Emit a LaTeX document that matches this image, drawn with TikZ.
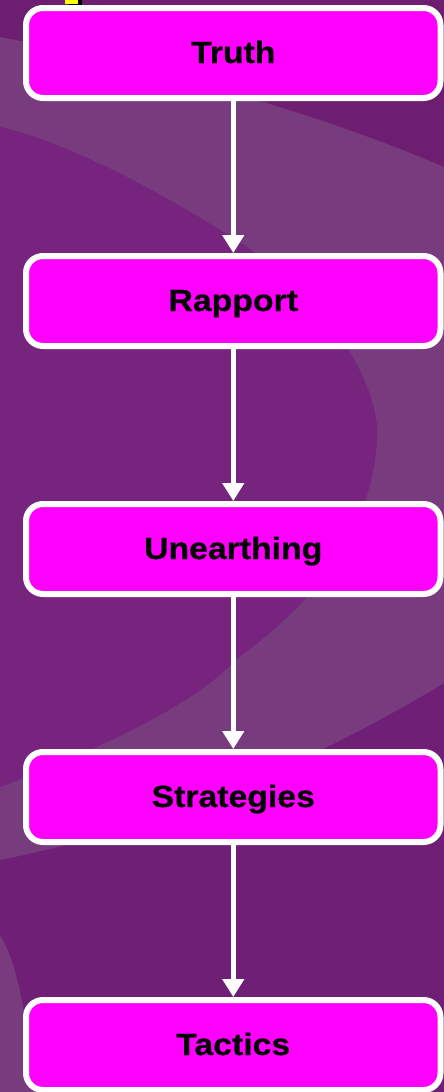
\documentclass[tikz,border=0pt]{standalone}
\usepackage{fontspec}
\setmainfont{Liberation Sans}[BoldFeatures={FakeBold=0.5}]
\usetikzlibrary{arrows.meta}

\definecolor{bgdark}{RGB}{112,31,118}
\definecolor{bgtop}{RGB}{110,30,112}
\definecolor{bginner}{RGB}{118,36,126}
\definecolor{bglight}{RGB}{119,59,126}
\definecolor{boxfill}{RGB}{255,0,255}
\definecolor{marker}{RGB}{255,255,0}

\newcommand\widetext[1]{\scalebox{1.1}[1]{#1}}

\tikzset{
  stepbox/.style={draw=white, fill=boxfill, line width=6pt,
    rounded corners=17pt, minimum width=414.5pt, minimum height=90pt,
    inner sep=0pt, text=black, text height=22pt, text depth=2pt,
    font=\fontsize{30.7}{36}\selectfont\bfseries},
  flow/.style={draw=white, line width=5pt,
    -{Triangle[length=18pt,width=21pt]}}
}

\begin{document}
\begin{tikzpicture}[x=1pt,y=-1pt]
  \useasboundingbox (0,0) rectangle (444,1092);

  % background swoosh
  \fill[bgdark] (0,0) rectangle (444,1092);
  \fill[bgtop] (0,0) -- (0,37) .. controls (120,60) and (300,105) .. (444,167) -- (444,0) -- cycle;
  \fill[bglight] (0,37) .. controls (120,60) and (300,105) .. (444,167)
    -- (444,683) .. controls (300,770) and (150,830) .. (0,860)
    -- (0,787) .. controls (110,745) and (200,700) .. (235,660)
    .. controls (290,620) and (370,550) .. (377,440)
    .. controls (380,390) and (340,330) .. (300,285)
    .. controls (250,245) and (100,150) .. (0,127) -- cycle;
  \fill[bginner] (0,127) .. controls (100,150) and (250,245) .. (300,285)
    .. controls (340,330) and (380,390) .. (377,440)
    .. controls (370,550) and (290,620) .. (235,660)
    .. controls (200,700) and (110,745) .. (0,787) -- cycle;
  \fill[bglight] (0,935) .. controls (15,960) and (25,1000) .. (35,1092) -- (0,1092) -- cycle;

  % small marker at the top
  \fill[black] (69,0) rectangle (82,7);
  \fill[marker] (65,0) rectangle (78,4);

  % steps
  \node[stepbox] (truth)   at (233.25,53)   {\widetext{Truth}};
  \node[stepbox] (rapport) at (233.25,301)  {\widetext{Rapport}};
  \node[stepbox] (unearth) at (233.25,549)  {\widetext{Unearthing}};
  \node[stepbox] (strat)   at (233.25,797)  {\widetext{Strategies}};
  \node[stepbox] (tactics) at (233.25,1045) {\widetext{Tactics}};

  % connectors
  \draw[flow] (truth.south)   -- (rapport.north);
  \draw[flow] (rapport.south) -- (unearth.north);
  \draw[flow] (unearth.south) -- (strat.north);
  \draw[flow] (strat.south)   -- (tactics.north);
\end{tikzpicture}
\end{document}
